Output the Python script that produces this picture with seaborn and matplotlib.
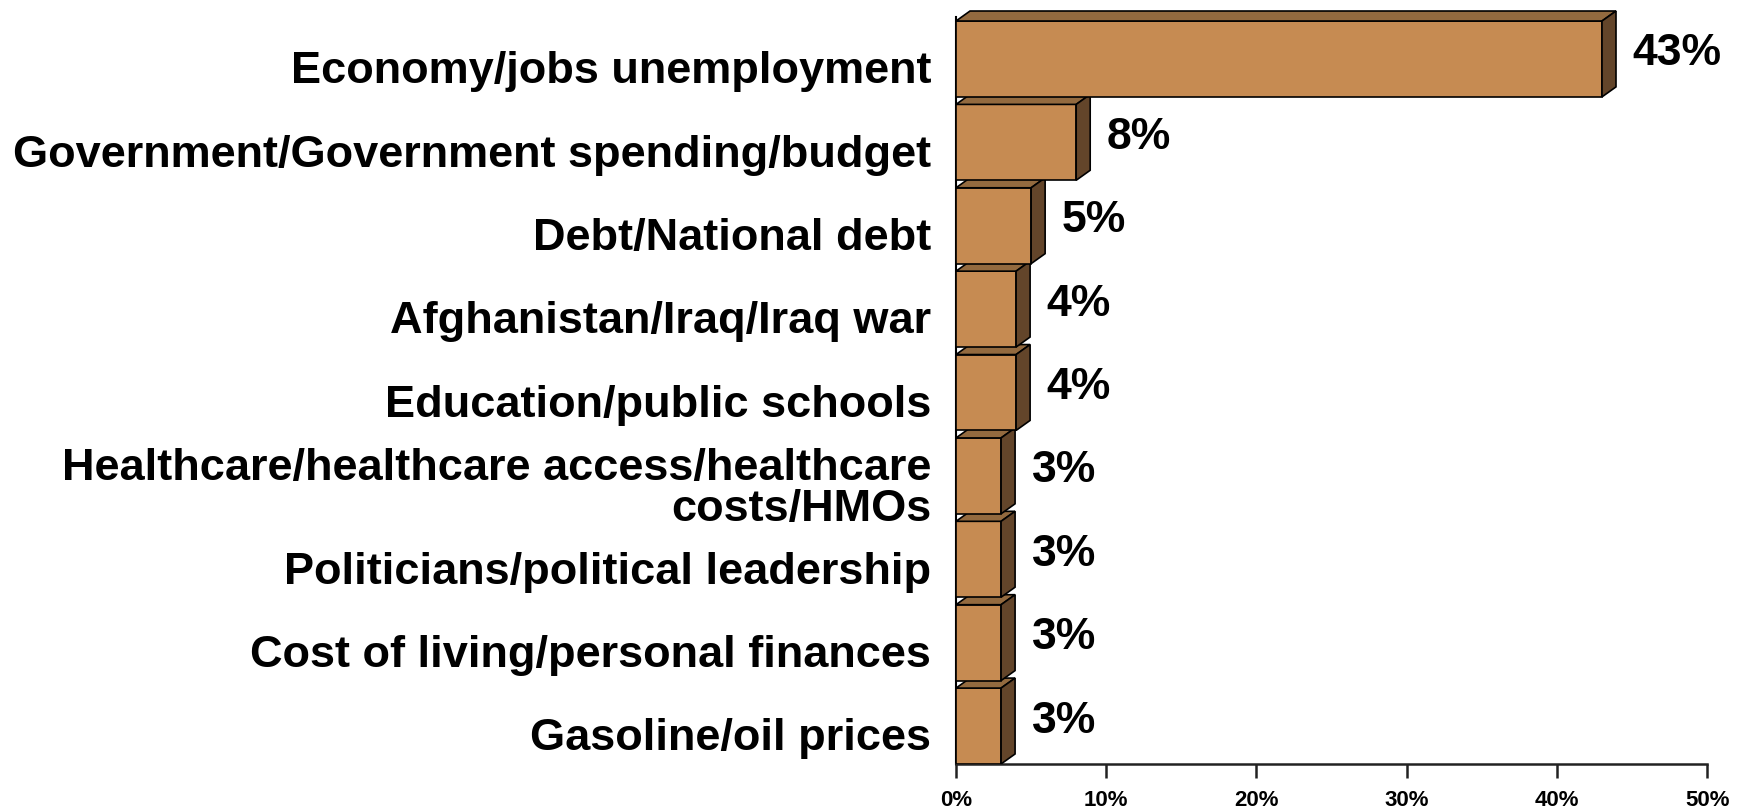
import matplotlib
matplotlib.use("Agg")
import matplotlib.pyplot as plt
from matplotlib.patches import Polygon
from matplotlib.ticker import FuncFormatter
from matplotlib.transforms import ScaledTranslation
import seaborn as sns
import pandas as pd

categories = [
    "Economy/jobs unemployment",
    "Government/Government spending/budget",
    "Debt/National debt",
    "Afghanistan/Iraq/Iraq war",
    "Education/public schools",
    "Healthcare/healthcare access/healthcare\ncosts/HMOs",
    "Politicians/political leadership",
    "Cost of living/personal finances",
    "Gasoline/oil prices",
]
values = [43, 8, 5, 4, 4, 3, 3, 3, 3]
xticks = [0, 10, 20, 30, 40, 50]

FRONT = "#C68B52"
TOP = "#936A3F"
SIDE = "#63452A"

sns.set_theme(style="white")
plt.rcParams["font.family"] = ["Liberation Sans", "DejaVu Sans"]
plt.rcParams["font.weight"] = "bold"
plt.rcParams["text.color"] = "black"
plt.rcParams["xtick.color"] = "black"
plt.rcParams["ytick.color"] = "black"
plt.rcParams["axes.labelcolor"] = "black"

df = pd.DataFrame({"issue": categories, "pct": values})

fig = plt.figure(figsize=(17.42, 8.08), dpi=100)
ax = fig.add_axes([0.5488, 0.0545, 0.4312, 0.9455])

sns.barplot(data=df, x="pct", y="issue", orient="h", color=FRONT,
            saturation=1, width=0.91, edgecolor="black", linewidth=1.2, ax=ax)

ax.set_xlim(0, 50)
ax.set_ylim(8.455, -0.707)

# 3D depth (data units)
dx = 14 / (ax.get_position().width * 1742 / 50)
dy = 10 / (ax.get_position().height * 808 / (8.455 + 0.707))

n = len(ax.patches)
for i, p in enumerate(ax.patches):
    x0, y0, w, h = p.get_x(), p.get_y(), p.get_width(), p.get_height()
    z = 10 + (n - i) * 3
    p.set_zorder(z)
    top = Polygon([(x0, y0), (x0 + w, y0), (x0 + w + dx, y0 - dy), (x0 + dx, y0 - dy)],
                  closed=True, facecolor=TOP, edgecolor="black", linewidth=1.2, zorder=z)
    side = Polygon([(x0 + w, y0), (x0 + w + dx, y0 - dy), (x0 + w + dx, y0 + h - dy), (x0 + w, y0 + h)],
                   closed=True, facecolor=SIDE, edgecolor="black", linewidth=1.2, zorder=z)
    ax.add_patch(top)
    ax.add_patch(side)
    ax.annotate(f"{values[i]}%", xy=(x0 + w + dx, y0 + h / 2 - dy / 2),
                xytext=(12, 0), textcoords="offset points",
                ha="left", va="center", fontsize=32, fontweight="bold",
                color="black", zorder=50)

ax.set_xlabel("")
ax.set_ylabel("")
ax.set_xticks(xticks)
ax.xaxis.set_major_formatter(FuncFormatter(lambda v, pos: f"{int(v)}%"))
ax.tick_params(axis="x", which="major", direction="out", length=10, width=1.8,
               color="#222222", labelsize=16, pad=9, bottom=True, labelcolor="black")
ax.tick_params(axis="y", length=0, pad=18, labelsize=32.5, labelcolor="black")
shift = ScaledTranslation(0, -6 / 72, fig.dpi_scale_trans)
for lab in ax.get_yticklabels():
    lab.set_fontweight("bold")
    lab.set_multialignment("right")
    lab.set_linespacing(1.0)
    lab.set_transform(lab.get_transform() + shift)
for lab in ax.get_xticklabels():
    lab.set_fontweight("bold")

for s in ["top", "right"]:
    ax.spines[s].set_visible(False)
ax.spines["bottom"].set_color("#222222")
ax.spines["bottom"].set_linewidth(1.8)
ax.spines["left"].set_color("black")
ax.spines["left"].set_linewidth(1.5)
ax.spines["left"].set_bounds(8.455, -0.5)
ax.grid(False)

fig.savefig("out.png", dpi=100, facecolor="white")
